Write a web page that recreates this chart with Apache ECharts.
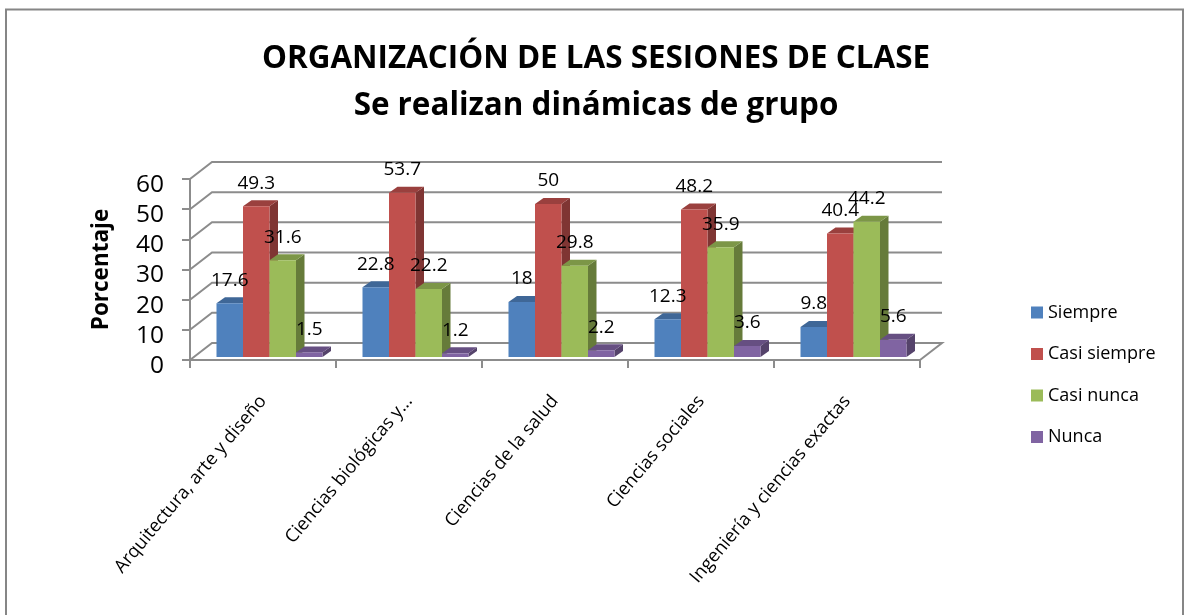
<!DOCTYPE html>
<html><head><meta charset="utf-8">
<style>html,body{margin:0;padding:0;background:#fff}#c{width:1185px;height:615px}</style>
<script src="https://cdn.jsdelivr.net/npm/echarts@6/dist/echarts.min.js"></script>
</head><body><div id="c"></div>
<script>
const categories = ['Arquitectura, arte y diseño','Ciencias biológicas y...','Ciencias de la salud','Ciencias sociales','Ingeniería y ciencias exactas'];
const seriesNames = ['Siempre','Casi siempre','Casi nunca','Nunca'];
const siempre = [17.6,22.8,18,12.3,9.8];
const casiSiempre = [49.3,53.7,50,48.2,40.4];
const casiNunca = [31.6,22.2,29.8,35.9,44.2];
const nunca = [1.5,1.2,2.2,3.6,5.6];
const yTicks = [0,10,20,30,40,50,60];
const frontColors = ['#4F81BD','#C0504D','#9BBB59','#8064A2'];
const topColors = ['#3F6797','#9A403E','#7C9647','#664F82'];
const sideColors = ['#355680','#7F3533','#667B3A','#55436B'];
const allValues = [siempre,casiSiempre,casiNunca,nunca];

const FONT = '"Open Sans"';
const GRID = '#8C8C8C';
const DX = 8.5, DY = 6;           // bar depth
const WALL_DX = 22, WALL_DY = 17; // chart-box depth
const BAR_FRACTION = 26.5/146;

function barRender(s){
  return function(params, api){
    const i = api.value(0), v = api.value(1);
    const base = api.coord([i,0]), top = api.coord([i,v]);
    const w = api.size([1,0])[0]*BAR_FRACTION;
    const x = base[0] + (s-2)*w;
    const poly = (pts,fill)=>({type:'polygon',shape:{points:pts},style:{fill:fill}});
    return {type:'group',children:[
      poly([[x+w,base[1]],[x+w+DX,base[1]-DY],[x+w+DX,top[1]-DY],[x+w,top[1]]],sideColors[s]),
      poly([[x,top[1]],[x+DX,top[1]-DY],[x+w+DX,top[1]-DY],[x+w,top[1]]],topColors[s]),
      {type:'rect',shape:{x:x,y:top[1],width:w,height:base[1]-top[1]},style:{fill:frontColors[s]}}
    ]};
  };
}
function labelRender(params, api){
  const s = api.value(0), i = api.value(1), v = api.value(2);
  const top = api.coord([i,v]);
  const w = api.size([1,0])[0]*BAR_FRACTION;
  return {type:'text',x:top[0]+(s-1.5)*w,y:top[1]-23,
    style:{text:String(v),font:'19px '+FONT,fill:'#000',align:'center',verticalAlign:'middle'}};
}
function wallRender(params, api){
  const v = api.value(0);
  const left = api.coord([0,v]);
  const plot = params.coordSys;
  const x0 = plot.x, x1 = plot.x+plot.width;
  const pts = [[x0,left[1]],[x0+WALL_DX,left[1]-WALL_DY],[x1+WALL_DX,left[1]-WALL_DY]];
  if(v===0) pts.push([x1,left[1]]);
  return {type:'polyline',shape:{points:pts},style:{stroke:GRID,lineWidth:2,fill:'none'}};
}

const labelData = [];
allValues.forEach((arr,s)=>arr.forEach((v,i)=>labelData.push([s,i,v])));

const series = [{
  type:'custom',name:'wall',coordinateSystem:'cartesian2d',xAxisIndex:0,yAxisIndex:0,
  renderItem:wallRender,data:yTicks.map(v=>[v]),z:1,silent:true,clip:false,encode:{x:-1,y:0}
}];
allValues.forEach((arr,s)=>series.push({
  type:'custom',name:seriesNames[s],coordinateSystem:'cartesian2d',xAxisIndex:1,yAxisIndex:1,
  renderItem:barRender(s),data:arr.map((v,i)=>[i,v]),z:2+s,clip:false,
  itemStyle:{color:frontColors[s]},encode:{x:0,y:1}
}));
series.push({
  type:'custom',name:'labels',coordinateSystem:'cartesian2d',xAxisIndex:1,yAxisIndex:1,
  renderItem:labelRender,data:labelData,z:10,silent:true,clip:false,encode:{x:1,y:2}
});

const chart = echarts.init(document.getElementById('c'),null,{renderer:'canvas'});
chart.setOption({
  animation:false,
  backgroundColor:'#fff',
  graphic:[{type:'rect',z:0,shape:{x:6,y:9.5,width:1177,height:620},style:{fill:'none',stroke:'#868686',lineWidth:2}}],
  title:{
    text:'ORGANIZACIÓN DE LAS SESIONES DE CLASE\nSe realizan dinámicas de grupo',
    left:591,top:31,textAlign:'center',
    textStyle:{fontFamily:FONT,fontWeight:'bold',fontSize:31.4,lineHeight:47,color:'#000'}
  },
  legend:{
    orient:'vertical',left:1026,top:298.5,icon:'rect',itemWidth:12,itemHeight:12,itemGap:23.5,
    data:seriesNames,selectedMode:false,
    textStyle:{fontFamily:FONT,fontSize:18,color:'#000'}
  },
  grid:[
    {left:190,width:730,top:179,height:181},
    {left:196.5,width:730,top:173.4,height:183.6}
  ],
  xAxis:[
    {type:'category',gridIndex:0,data:categories,boundaryGap:true,
     axisLine:{lineStyle:{color:GRID,width:2}},
     axisTick:{show:true,length:8,lineStyle:{color:GRID,width:2},alignWithLabel:false},
     axisLabel:{rotate:50,interval:0,margin:38,fontFamily:FONT,fontSize:18.2,color:'#000'}},
    {type:'category',gridIndex:1,data:categories,show:false}
  ],
  yAxis:[
    {type:'value',gridIndex:0,min:0,max:60,interval:10,
     axisLine:{show:true,lineStyle:{color:GRID,width:2}},
     axisTick:{show:true,length:8,lineStyle:{color:GRID,width:2}},
     splitLine:{show:false},
     axisLabel:{margin:26,fontFamily:FONT,fontSize:24.5,color:'#000',verticalAlign:'top',lineHeight:12},
     name:'Porcentaje',nameLocation:'middle',nameGap:77,
     nameTextStyle:{fontFamily:FONT,fontWeight:'bold',fontSize:22.5,color:'#000'}},
    {type:'value',gridIndex:1,min:0,max:60,interval:10,show:false,splitLine:{show:false}}
  ],
  series:series
});
</script></body></html>
